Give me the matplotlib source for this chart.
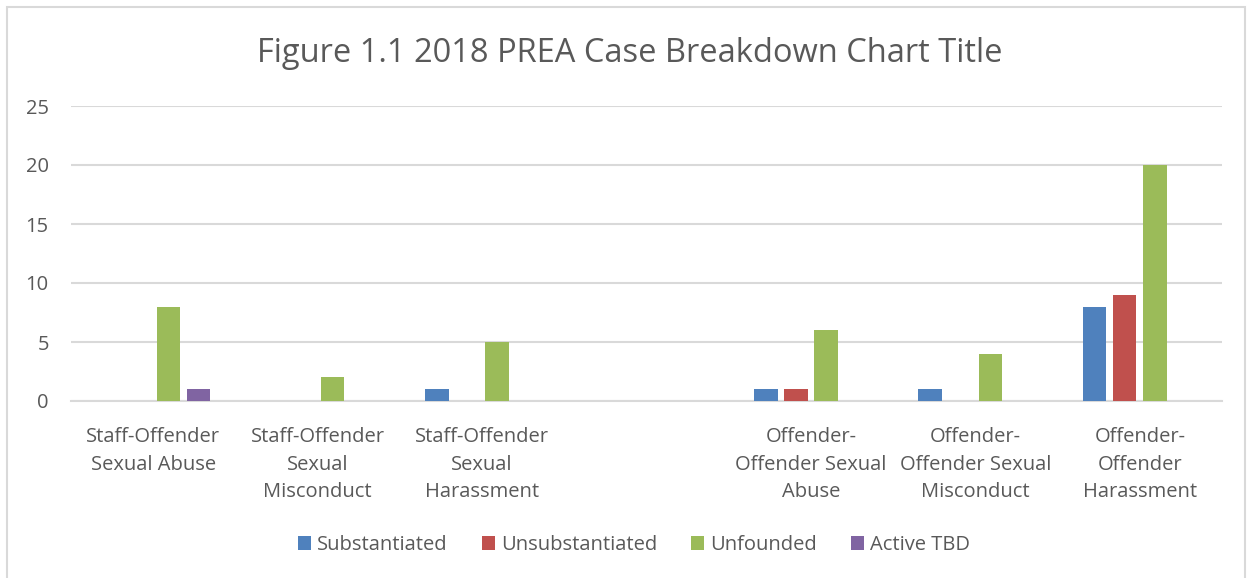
import matplotlib
matplotlib.use("Agg")
import matplotlib.pyplot as plt
import numpy as np
from matplotlib.patches import Rectangle

categories = ["Staff-Offender\nSexual Abuse", "Staff-Offender\nSexual\nMisconduct",
              "Staff-Offender\nSexual\nHarassment", "",
              "Offender-\nOffender Sexual\nAbuse", "Offender-\nOffender Sexual\nMisconduct",
              "Offender-\nOffender\nHarassment"]
series_names = ["Substantiated", "Unsubstantiated", "Unfounded", "Active TBD"]
substantiated = [0, 0, 1, 0, 1, 1, 8]
unsubstantiated = [0, 0, 0, 0, 1, 0, 9]
unfounded = [8, 2, 5, 0, 6, 4, 20]
active_tbd = [1, 0, 0, 0, 0, 0, 0]
yticks = [0, 5, 10, 15, 20, 25]
title = "Figure 1.1 2018 PREA Case Breakdown Chart Title"

colors = ["#4F81BD", "#C0504D", "#9BBB59", "#8064A2"]
text_color = "#595959"
grid_color = "#D9D9D9"

plt.rcParams['font.family'] = ['Open Sans', 'DejaVu Sans']

W, H = 1250, 578
fig = plt.figure(figsize=(W / 100, H / 100), dpi=100)
fig.patch.set_facecolor("white")

# outer chart frame
fig.patches.append(Rectangle((7 / W, -0.05), (1245 - 7) / W, (H - 7) / H + 0.05,
                             transform=fig.transFigure, fill=False,
                             edgecolor=grid_color, linewidth=1.5))

left, right = 71 / W, 1222 / W
bottom, top = 1 - 401 / H, 1 - 106 / H
ax = fig.add_axes([left, bottom, right - left, top - bottom])

x = np.arange(len(categories))
pitch = 0.183
bw = 0.143
all_series = [substantiated, unsubstantiated, unfounded, active_tbd]
for i, (vals, name, c) in enumerate(zip(all_series, series_names, colors)):
    off = (i - 1.5) * pitch
    ax.bar(x + off, vals, width=bw, color=c, label=name, linewidth=0, zorder=3)

ax.set_xlim(-0.5, len(categories) - 0.5)
ax.set_ylim(0, 25)
ax.set_yticks(yticks)
ax.set_xticks(x)
ax.set_xticklabels(categories, linespacing=1.48)
ax.yaxis.grid(True, color=grid_color, linewidth=1.5, zorder=0)
ax.set_axisbelow(True)
for s in ["top", "right", "left"]:
    ax.spines[s].set_visible(False)
ax.spines["bottom"].set_color(grid_color)
ax.spines["bottom"].set_linewidth(1.5)
ax.tick_params(axis="both", length=0, colors=text_color, labelsize=14.5)
ax.tick_params(axis="y", pad=16)
ax.tick_params(axis="x", pad=19)

fig.text(630 / W, 1 - 53 / H, title, ha="center", va="center",
         fontsize=23.5, color=text_color)

leg = fig.legend(loc="center", bbox_to_anchor=(634 / W, 1 - 545 / H), ncol=4,
                 frameon=False, fontsize=14.5, handlelength=0.65, handleheight=0.65,
                 handletextpad=0.3, columnspacing=1.7, labelcolor=text_color)

fig.savefig("out.png", dpi=100, facecolor="white")
